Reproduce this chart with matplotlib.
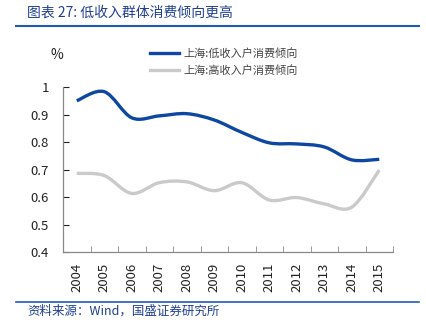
import matplotlib
matplotlib.use('Agg')
import matplotlib.pyplot as plt
from matplotlib.path import Path
from matplotlib.patches import PathPatch
from matplotlib.lines import Line2D

plt.rcParams['font.family'] = ['Noto Sans CJK SC', 'DejaVu Sans']

# data
years = ['2004', '2005', '2006', '2007', '2008', '2009',
         '2010', '2011', '2012', '2013', '2014', '2015']
low_income = [0.950, 0.983, 0.888, 0.895, 0.903, 0.880,
              0.835, 0.797, 0.793, 0.782, 0.735, 0.737]
high_income = [0.686, 0.678, 0.613, 0.652, 0.655, 0.623,
               0.652, 0.589, 0.598, 0.575, 0.563, 0.698]
label_low = '上海:低收入户消费倾向'
label_high = '上海:高收入户消费倾向'

blue = '#0D47A1'
grey = '#CACACA'


def smooth_path(xs, ys):
    # excel-like smoothed line: cubic bezier segments through the points
    verts = [(xs[0], ys[0])]
    codes = [Path.MOVETO]
    n = len(xs)
    for i in range(n - 1):
        x0, y0 = (xs[i - 1], ys[i - 1]) if i > 0 else (xs[i], ys[i])
        x1, y1 = xs[i], ys[i]
        x2, y2 = xs[i + 1], ys[i + 1]
        x3, y3 = (xs[i + 2], ys[i + 2]) if i + 2 < n else (x2, y2)
        c1 = (x1 + (x2 - x0) / 6, y1 + (y2 - y0) / 6)
        c2 = (x2 - (x3 - x1) / 6, y2 - (y3 - y1) / 6)
        verts += [c1, c2, (x2, y2)]
        codes += [Path.CURVE4] * 3
    return Path(verts, codes)


fig = plt.figure(figsize=(4.26, 3.30), dpi=100)
ax = fig.add_axes([63 / 426, 1 - 252 / 330, 330 / 426, 165 / 330])

xs = list(range(len(years)))
for vals, col in [(high_income, grey), (low_income, blue)]:
    ax.add_patch(PathPatch(smooth_path(xs, vals), facecolor='none',
                           edgecolor=col, lw=2.4, capstyle='butt'))

ax.set_xlim(-0.5, len(years) - 0.5)
ax.set_ylim(0.4, 1.0)
ax.set_yticks([0.4, 0.5, 0.6, 0.7, 0.8, 0.9, 1.0])
ax.set_yticklabels(['0.4', '0.5', '0.6', '0.7', '0.8', '0.9', '1'])
ax.set_xticks(xs)
ax.set_xticklabels(years, rotation=90)
ax.set_xticks([i - 0.5 for i in range(len(years) + 1)], minor=True)
ax.tick_params(axis='x', which='major', length=0, pad=8, labelsize=9.5, colors='#222222')
ax.tick_params(axis='x', which='minor', length=4, color='#888888', direction='in')
ax.tick_params(axis='y', length=4, color='#888888', direction='in', labelsize=9.5,
               colors='#222222', pad=10)
ax.tick_params(axis='y', colors='#222222')
for s in ['top', 'right']:
    ax.spines[s].set_visible(False)
for s in ['left', 'bottom']:
    ax.spines[s].set_color('#888888')
    ax.spines[s].set_linewidth(0.9)

fig.text(57 / 426, 1 - 55 / 330, '%', fontsize=10, ha='center', va='center', color='#222222')

handles = [Line2D([], [], color=blue, lw=2.4), Line2D([], [], color=grey, lw=2.4)]
fig.legend(handles, [label_low, label_high], loc='upper left',
           bbox_to_anchor=(140 / 426, 1 - 38 / 330), frameon=False,
           fontsize=8, handlelength=2.6, handletextpad=0.4, labelspacing=0.6,
           labelcolor='#444444')

# title and footer
fig.text(27 / 426, 1 - 13 / 330, '图表 27: 低收入群体消费倾向更高', fontsize=10,
         style='italic', color='#1F3F8F', ha='left', va='center')
fig.add_artist(Line2D([16 / 426, 419 / 426], [1 - 26 / 330, 1 - 26 / 330],
                      color='#1F5BB5', lw=1.5))
fig.add_artist(Line2D([16 / 426, 419 / 426], [1 - 302 / 330, 1 - 302 / 330],
                      color='#1F5BB5', lw=1.2))
fig.text(27 / 426, 1 - 311 / 330, '资料来源：Wind，国盛证券研究所', fontsize=9,
         style='italic', color='#1F3F8F', ha='left', va='center')

fig.savefig('out.png', dpi=100)
